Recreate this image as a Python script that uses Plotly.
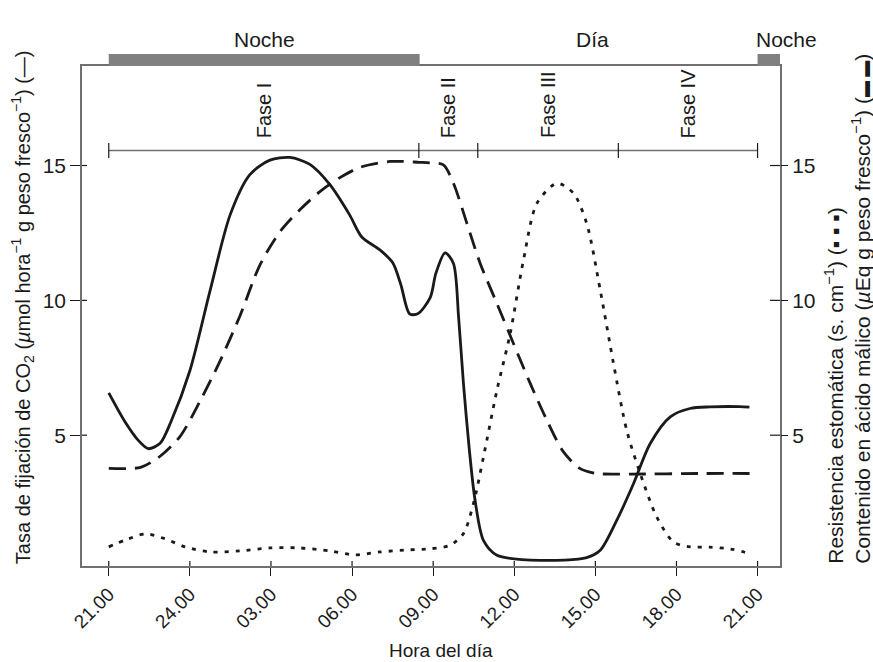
import plotly.graph_objects as go

# ---- data (hours after 21.00) ----
tick_hours = [0, 3, 6, 9, 12, 15, 18, 21, 24]
tick_labels = ["21.00", "24.00", "03.00", "06.00", "09.00", "12.00", "15.00", "18.00", "21.00"]
y_ticks = [5, 10, 15]

co2_h = [0, 0.6, 1.1, 1.46, 1.9, 2.3, 3.0, 3.75, 4.49, 5.22, 5.96, 6.7, 7.44, 8.18, 8.91,
         9.36, 10.03, 10.5, 10.8, 11.13, 11.43, 11.89, 12.1, 12.44, 12.75, 12.94, 13.12,
         13.34, 13.55, 13.86, 14.36, 15.96, 17.68, 18.18, 18.79, 19.41, 20.03, 20.77, 21.5,
         22.24, 23.32, 23.7]
co2_val = [6.57, 5.5, 4.8, 4.5, 4.7, 5.5, 7.39, 10.37, 13.17, 14.66, 15.2, 15.3, 15.04,
           14.29, 13.17, 12.35, 11.87, 11.4, 10.6, 9.5, 9.5, 10.1, 11.0, 11.76, 11.37,
           9.39, 6.92, 4.44, 2.59, 1.1, 0.55, 0.36, 0.46, 0.73, 1.84, 3.2, 4.69, 5.68,
           5.99, 6.05, 6.06, 6.04]

malic_h = [0, 1.18, 1.9, 2.64, 3.38, 4.12, 4.86, 5.59, 6.33, 7.07, 7.81, 8.55, 9.29,
           10.4, 11.5, 11.89, 12.38, 12.75, 13.25, 13.74, 14.36, 14.97, 15.59, 16.21,
           16.82, 17.44, 18.05, 19.3, 21.84, 24]
malic_val = [3.77, 3.81, 4.22, 4.96, 6.27, 7.76, 9.44, 11.31, 12.54, 13.36, 14.03, 14.55,
             14.93, 15.15, 15.12, 15.1, 15.02, 14.34, 12.85, 11.37, 9.88, 8.4, 6.92, 5.55,
             4.38, 3.76, 3.58, 3.56, 3.58, 3.58]

resist_h = [0, 0.63, 1.35, 2.08, 2.82, 3.75, 4.86, 5.96, 7.07, 8.18, 9.1, 10.03, 11.13,
            11.89, 12.63, 13.12, 13.49, 13.86, 14.36, 14.85, 15.34, 15.84, 16.58, 17.19,
            17.68, 18.18, 18.67, 19.16, 19.66, 20.27, 20.89, 21.5, 22.24, 23.0, 23.5, 23.76]
resist_val = [0.86, 1.12, 1.34, 1.16, 0.86, 0.67, 0.71, 0.82, 0.82, 0.71, 0.56, 0.67, 0.75,
              0.79, 0.92, 1.35, 2.46, 4.19, 6.67, 8.77, 11.49, 13.6, 14.34, 13.97, 12.85,
              10.38, 7.66, 5.18, 3.58, 1.97, 1.04, 0.86, 0.85, 0.78, 0.67, 0.58]

phase_bounds = [0, 11.47, 13.65, 18.85, 24]
phase_names = ["Fase I", "Fase II", "Fase III", "Fase IV"]
night_spans = [(0, 11.5), (24, 24.83)]

X_RANGE = [-0.99, 24.83]
Y_RANGE = [0.15, 18.69]

INK = "#1a1a1a"
AXC = "#707070"
FONT = "Liberation Sans, Arial, sans-serif"

PLOT_W = 873 - 82 - 93
PLOT_H = 662 - 66 - 96

fig = go.Figure()
fig.add_trace(go.Scatter(x=co2_h, y=co2_val, mode="lines",
                         line=dict(color=INK, width=2.8, shape="spline", smoothing=0.8),
                         showlegend=False, hoverinfo="skip"))
fig.add_trace(go.Scatter(x=malic_h, y=malic_val, mode="lines",
                         line=dict(color=INK, width=2.8, dash="17px,9px", shape="spline", smoothing=0.8),
                         showlegend=False, hoverinfo="skip"))
fig.add_trace(go.Scatter(x=resist_h, y=resist_val, mode="lines",
                         line=dict(color=INK, width=2.8, dash="4px,7px", shape="spline", smoothing=0.8),
                         showlegend=False, hoverinfo="skip"))
# invisible trace to activate right axis
fig.add_trace(go.Scatter(x=[0], y=[5], yaxis="y2", mode="markers",
                         marker=dict(opacity=0), showlegend=False, hoverinfo="skip"))

shapes = []
# night bars on top border
for a, b in night_spans:
    shapes.append(dict(type="rect", xref="x", yref="paper", x0=a, x1=b, y0=1.0, y1=1.024,
                       fillcolor="#808080", line=dict(width=0), layer="above"))
# phase line
PY = 0.831
shapes.append(dict(type="line", xref="x", yref="paper", x0=phase_bounds[0], x1=phase_bounds[-1],
                   y0=PY, y1=PY, line=dict(color=AXC, width=1.4)))
for b in phase_bounds:
    shapes.append(dict(type="line", xref="x", yref="paper", x0=b, x1=b,
                       y0=PY - 0.015, y1=PY + 0.015, line=dict(color=INK, width=1.2)))
# inner parts of ticks (ticks cross the axis lines)
for t in tick_hours:
    shapes.append(dict(type="line", xref="x", yref="paper", x0=t, x1=t, y0=0, y1=5 / PLOT_H,
                       line=dict(color=INK, width=1.2)))
for v in y_ticks:
    shapes.append(dict(type="line", xref="paper", yref="y", x0=0, x1=5 / PLOT_W, y0=v, y1=v,
                       line=dict(color=INK, width=1.2)))
    shapes.append(dict(type="line", xref="paper", yref="y", x0=1 - 10 / PLOT_W, x1=1, y0=v, y1=v,
                       line=dict(color=INK, width=1.2)))

annotations = []
for i, name in enumerate(phase_names):
    mid = (phase_bounds[i] + phase_bounds[i + 1]) / 2
    annotations.append(dict(x=mid, y=0.851, xref="x", yref="paper", text=name, textangle=-90,
                            showarrow=False, xanchor="center", yanchor="bottom",
                            font=dict(family=FONT, size=20, color=INK)))
annotations.append(dict(x=5.75, y=1.053, xref="x", yref="paper", text="Noche", showarrow=False,
                        xanchor="center", yanchor="middle", font=dict(family=FONT, size=21, color=INK)))
annotations.append(dict(x=17.9, y=1.053, xref="x", yref="paper", text="Día", showarrow=False,
                        xanchor="center", yanchor="middle", font=dict(family=FONT, size=21, color=INK)))
annotations.append(dict(x=1.01, y=1.053, xref="paper", yref="paper", text="Noche", showarrow=False,
                        xanchor="center", yanchor="middle", font=dict(family=FONT, size=21, color=INK)))
annotations.append(dict(x=-0.085, y=0.517, xref="paper", yref="paper", textangle=-90,
                        text="Tasa de fijación de CO<sub>2</sub> (<i>µ</i>mol hora<sup>−1</sup> g peso fresco<sup>−1</sup>) (—)",
                        showarrow=False, xanchor="center", yanchor="middle",
                        font=dict(family=FONT, size=20, color=INK)))
annotations.append(dict(x=1.0956, y=0.0, xref="paper", yref="paper", textangle=-90, align="left",
                        text="Resistencia estomática (s. cm<sup>−1</sup>) (<b>▪ ▪ ▪</b>)<br>"
                             "Contenido en ácido málico (<i>µ</i>Eq g peso fresco<sup>−1</sup>) "
                             "(<span style='font-size:16px'>▬ ▬</span>)",
                        showarrow=False, xanchor="center", yanchor="bottom",
                        font=dict(family=FONT, size=21, color=INK)))
annotations.append(dict(x=0.514, y=-0.168, xref="paper", yref="paper", text="Hora del día",
                        showarrow=False, xanchor="center", yanchor="middle",
                        font=dict(family=FONT, size=19, color=INK)))

fig.update_layout(
    width=873, height=662,
    margin=dict(l=82, r=93, t=66, b=96),
    paper_bgcolor="white", plot_bgcolor="white",
    shapes=shapes, annotations=annotations,
    xaxis=dict(range=X_RANGE, tickvals=tick_hours, ticktext=tick_labels, tickangle=-45,
               showgrid=False, zeroline=False, showline=True, linecolor=AXC, linewidth=1.5,
               mirror=True, ticks="outside", ticklen=8, tickcolor=INK, tickwidth=1.2,
               tickfont=dict(family=FONT, size=19, color=INK)),
    yaxis=dict(range=Y_RANGE, tickvals=y_ticks, showgrid=False, zeroline=False,
               showline=True, linecolor=AXC, linewidth=1.5, mirror=True,
               ticks="outside", ticklen=10, tickcolor=INK, tickwidth=1.2,
               tickfont=dict(family=FONT, size=21, color=INK)),
    yaxis2=dict(range=Y_RANGE, tickvals=y_ticks, overlaying="y", side="right",
                showgrid=False, zeroline=False, showline=False,
                ticks="outside", ticklen=7, tickcolor=INK, tickwidth=1.2,
                tickfont=dict(family=FONT, size=21, color=INK)),
)

fig.write_html("out.html")
